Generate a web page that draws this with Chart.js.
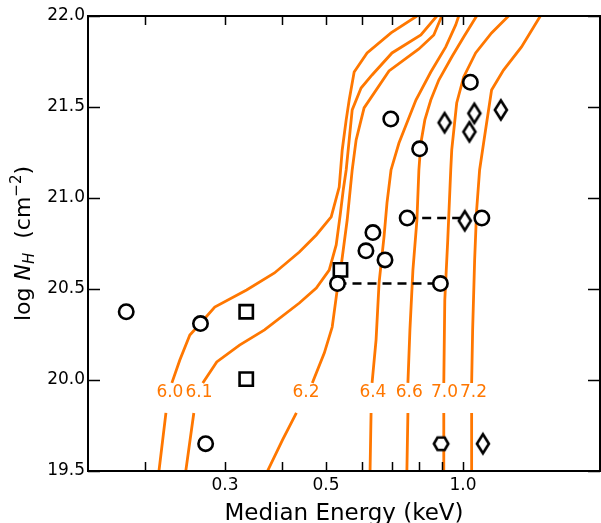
<!DOCTYPE html>
<html>
<head>
<meta charset="utf-8">
<script src="https://cdn.jsdelivr.net/npm/chart.js@4.4.0/dist/chart.umd.min.js"></script>
<style>
  html, body { margin: 0; padding: 0; background: #fff; }
</style>
</head>
<body>
<canvas id="plot" width="601" height="523"></canvas>
<script>
// contour curves of constant log T (median energy in keV vs log N_H), null = label gap
const curveLabels = ["6.0", "6.1", "6.2", "6.4", "6.6", "7.0", "7.2"];

const curve60E = [0.2148, 0.2225, null, 0.2293, 0.2387, 0.2511, 0.2654, 0.2848, 0.3346, 0.3853, 0.4370, 0.4761, 0.5134, 0.5346, 0.5428, 0.5538, 0.5623, 0.5766, 0.6156, 0.6948, 0.7921];
const curve60N = [19.5, 19.819, null, 19.984, 20.110, 20.247, 20.313, 20.401, 20.495, 20.588, 20.703, 20.797, 20.896, 21.060, 21.264, 21.429, 21.538, 21.692, 21.797, 21.907, 22.0];

const curve61E = [0.2460, 0.2562, null, 0.2681, 0.2877, 0.3229, 0.3664, 0.4370, 0.4761, 0.5082, 0.5265, 0.5373, 0.5456, 0.5538, 0.5623, 0.5709, 0.5971, 0.6313, 0.6983, 0.8081, 0.8760];
const curve61N = [19.5, 19.819, null, 19.984, 20.099, 20.192, 20.275, 20.423, 20.505, 20.604, 20.742, 20.907, 21.044, 21.154, 21.319, 21.484, 21.604, 21.676, 21.797, 21.896, 22.0];

const curve62E = [0.3720, 0.4011, 0.4305, null, 0.4666, 0.4957, 0.5160, 0.5292, 0.5373, 0.5456, 0.5566, 0.5709, 0.5824, 0.6063, 0.6878, 0.8000, 0.8627, 0.8983];
const curve62N = [19.5, 19.670, 19.819, null, 19.984, 20.148, 20.291, 20.495, 20.588, 20.714, 20.879, 21.154, 21.319, 21.495, 21.698, 21.819, 21.896, 22.0];

const curve64E = [0.6249, 0.6281, null, 0.6313, 0.6442, 0.6540, 0.6706, 0.6808, 0.6948, 0.7233, 0.7881, 0.8497, 0.9165, 0.9638, 0.9786];
const curve64N = [19.5, 19.819, null, 19.984, 20.220, 20.533, 20.786, 20.973, 21.154, 21.302, 21.538, 21.692, 21.830, 21.951, 22.0];

const curve66E = [0.7529, 0.7568, null, 0.7568, 0.7645, 0.7762, 0.7921, 0.8000, 0.8081, 0.8245, 0.8497, 0.8848, 0.9447, 1.0035, 1.0715];
const curve66N = [19.5, 19.819, null, 19.984, 20.275, 20.604, 20.879, 21.154, 21.302, 21.429, 21.538, 21.648, 21.775, 21.885, 22.0];

const curve70E = [0.9074, 0.9074, null, 0.9074, 0.9120, 0.9258, 0.9399, 0.9447, 0.9687, 1.0035, 1.0661, 1.1556, 1.2590];
const curve70N = [19.5, 19.819, null, 19.984, 20.440, 20.769, 21.154, 21.264, 21.522, 21.665, 21.797, 21.907, 22.0];

const curve72E = [1.0447, 1.0447, null, 1.0447, 1.0500, 1.0607, 1.0715, 1.0877, 1.1099, 1.1556, 1.2277, 1.3445, 1.4791];
const curve72N = [19.5, 19.819, null, 19.984, 20.275, 20.659, 20.934, 21.154, 21.302, 21.593, 21.703, 21.830, 22.0];

// where the contour labels sit
const labelE = [0.227, 0.263, 0.452, 0.634, 0.762, 0.911, 1.055];
const labelNH = 19.93;

// sources
const circleE = [0.182, 0.265, 0.272, 0.530, 0.892, 0.612, 0.634, 0.674, 0.754, 1.100, 0.694, 0.803, 1.038];
const circleNH = [20.375, 20.31, 19.65, 20.53, 20.53, 20.71, 20.81, 20.66, 20.89, 20.89, 21.434, 21.27, 21.636];
const squareE = [0.334, 0.334, 0.538];
const squareNH = [20.375, 20.005, 20.605];
const diamondE = [0.911, 1.059, 1.033, 1.211, 1.009, 1.106];
const diamondNH = [21.414, 21.465, 21.364, 21.484, 20.875, 19.65];
const hexE = [0.895];
const hexNH = [19.65];
const dashE = [[0.530, 0.892], [0.754, 1.009]];
const dashNH = [20.53, 20.89];

// axes
const xTickMarks = [0.2, 0.3, 0.4, 0.5, 0.6, 0.7, 0.8, 0.9, 1.0];
const xTickLabels = [0.3, 0.5, 1.0];
const yTickValues = [19.5, 20.0, 20.5, 21.0, 21.5, 22.0];

const orange = '#ff7700';
const font = 'DejaVu Sans';
Chart.defaults.font.family = font;

const pts = (es, ns) => es.map((e, i) => ({ x: e, y: ns[i] }));

const markerCanvas = (w, h, drawPath) => {
    const c = document.createElement('canvas');
    c.width = w;
    c.height = h;
    const g = c.getContext('2d');
    g.beginPath();
    drawPath(g, w / 2, h / 2);
    g.closePath();
    g.fillStyle = '#fff';
    g.fill();
    g.lineWidth = 2.6;
    g.strokeStyle = '#000';
    g.stroke();
    return c;
};

const diamondMark = markerCanvas(20, 28, (g, cx, cy) => {
    g.moveTo(cx, cy - 9.5);
    g.lineTo(cx + 6, cy);
    g.lineTo(cx, cy + 9.5);
    g.lineTo(cx - 6, cy);
});

const hexMark = markerCanvas(22, 22, (g, cx, cy) => {
    for (let k = 0; k < 6; k++) {
        const a = k * Math.PI / 3;
        const px = cx + 7.2 * Math.cos(a), py = cy + 7.2 * Math.sin(a);
        if (k === 0) g.moveTo(px, py); else g.lineTo(px, py);
    }
});

const curvesE = [curve60E, curve61E, curve62E, curve64E, curve66E, curve70E, curve72E];
const curvesN = [curve60N, curve61N, curve62N, curve64N, curve66N, curve70N, curve72N];

const datasets = curveLabels.map((lab, i) => ({
    label: 'log T = ' + lab,
    data: pts(curvesE[i], curvesN[i]),
    showLine: true,
    spanGaps: false,
    borderColor: orange,
    borderWidth: 2.8,
    pointRadius: 0,
    tension: 0,
    order: 10
}));

dashE.forEach((es, i) => {
    datasets.push({
        label: 'link',
        data: pts(es, [dashNH[i], dashNH[i]]),
        showLine: true,
        borderColor: '#000',
        borderWidth: 2.6,
        borderDash: [9, 6],
        pointRadius: 0,
        order: 5
    });
});

datasets.push({
    label: 'squares',
    data: pts(squareE, squareNH),
    pointStyle: 'rect',
    pointRadius: 9.4,
    borderWidth: 2.6,
    borderColor: '#000',
    backgroundColor: '#fff',
    order: 3
});
datasets.push({
    label: 'diamonds',
    data: pts(diamondE, diamondNH),
    pointStyle: diamondMark,
    pointRadius: 9,
    order: 2
});
datasets.push({
    label: 'hexagons',
    data: pts(hexE, hexNH),
    pointStyle: hexMark,
    pointRadius: 8,
    order: 2
});
datasets.push({
    label: 'circles',
    data: pts(circleE, circleNH),
    pointStyle: 'circle',
    pointRadius: 7.2,
    borderWidth: 2.6,
    borderColor: '#000',
    backgroundColor: '#fff',
    order: 1
});

const decorations = {
    id: 'decorations',
    afterDatasetsDraw(chart) {
        const { ctx, chartArea: a, scales: { x, y } } = chart;
        ctx.save();

        // contour labels
        ctx.fillStyle = orange;
        ctx.font = '17px ' + font;
        ctx.textAlign = 'center';
        ctx.textBaseline = 'middle';
        curveLabels.forEach((lab, i) => {
            ctx.fillText(lab, x.getPixelForValue(labelE[i]), y.getPixelForValue(labelNH));
        });

        // frame
        ctx.strokeStyle = '#000';
        ctx.lineWidth = 2;
        ctx.strokeRect(a.left, a.top, a.right - a.left, a.bottom - a.top);

        // inward ticks
        ctx.lineWidth = 1.5;
        ctx.beginPath();
        xTickMarks.forEach(v => {
            const px = Math.round(x.getPixelForValue(v)) + 0.5;
            ctx.moveTo(px, a.bottom); ctx.lineTo(px, a.bottom - 9);
            ctx.moveTo(px, a.top); ctx.lineTo(px, a.top + 9);
        });
        yTickValues.forEach(v => {
            const py = Math.round(y.getPixelForValue(v)) + 0.5;
            ctx.moveTo(a.left, py); ctx.lineTo(a.left + 12, py);
            ctx.moveTo(a.right, py); ctx.lineTo(a.right - 12, py);
        });
        ctx.stroke();

        // x title
        ctx.fillStyle = '#000';
        ctx.font = '23px ' + font;
        ctx.textAlign = 'center';
        ctx.textBaseline = 'alphabetic';
        ctx.fillText('Median Energy (keV)', (a.left + a.right) / 2, 520);

        // y title: log N_H (cm^-2)
        const parts = [
            { t: 'log ', f: '22px ' + font, dy: 0 },
            { t: 'N', f: 'italic 22px ' + font, dy: 0 },
            { t: 'H', f: 'italic 15px ' + font, dy: 4 },
            { t: '  (cm', f: '22px ' + font, dy: 0 },
            { t: '\u22122', f: '15px ' + font, dy: -9 },
            { t: ')', f: '22px ' + font, dy: 0 }
        ];
        let total = 0;
        parts.forEach(p => { ctx.font = p.f; p.w = ctx.measureText(p.t).width; total += p.w; });
        ctx.translate(30, (a.top + a.bottom) / 2);
        ctx.rotate(-Math.PI / 2);
        ctx.textAlign = 'left';
        let cx = -total / 2;
        parts.forEach(p => {
            ctx.font = p.f;
            ctx.fillText(p.t, cx, p.dy);
            cx += p.w;
        });
        ctx.restore();
    }
};

new Chart(document.getElementById('plot').getContext('2d'), {
    type: 'scatter',
    data: { datasets },
    options: {
        responsive: false,
        animation: false,
        layout: { autoPadding: false, padding: { top: 16, right: 1, left: 0, bottom: 0 } },
        plugins: {
            legend: { display: false },
            tooltip: { enabled: false }
        },
        scales: {
            x: {
                type: 'logarithmic',
                min: 0.15,
                max: 2.0,
                bounds: 'data',
                grid: { display: false, drawTicks: false },
                border: { display: false },
                afterBuildTicks: scale => {
                    scale.ticks = xTickLabels.map(v => ({ value: v }));
                },
                afterFit: scale => { scale.height = 52; },
                ticks: {
                    autoSkip: false,
                    maxRotation: 0,
                    padding: 4,
                    color: '#000',
                    font: { size: 17 },
                    callback: v => Number(v).toFixed(1)
                }
            },
            y: {
                min: 19.5,
                max: 22.0,
                grid: { display: false, drawTicks: false },
                border: { display: false },
                afterFit: scale => { scale.width = 88; },
                ticks: {
                    stepSize: 0.5,
                    padding: 3,
                    color: '#000',
                    font: { size: 17 },
                    callback: v => Number(v).toFixed(1)
                }
            }
        }
    },
    plugins: [decorations]
});
</script>
</body>
</html>
